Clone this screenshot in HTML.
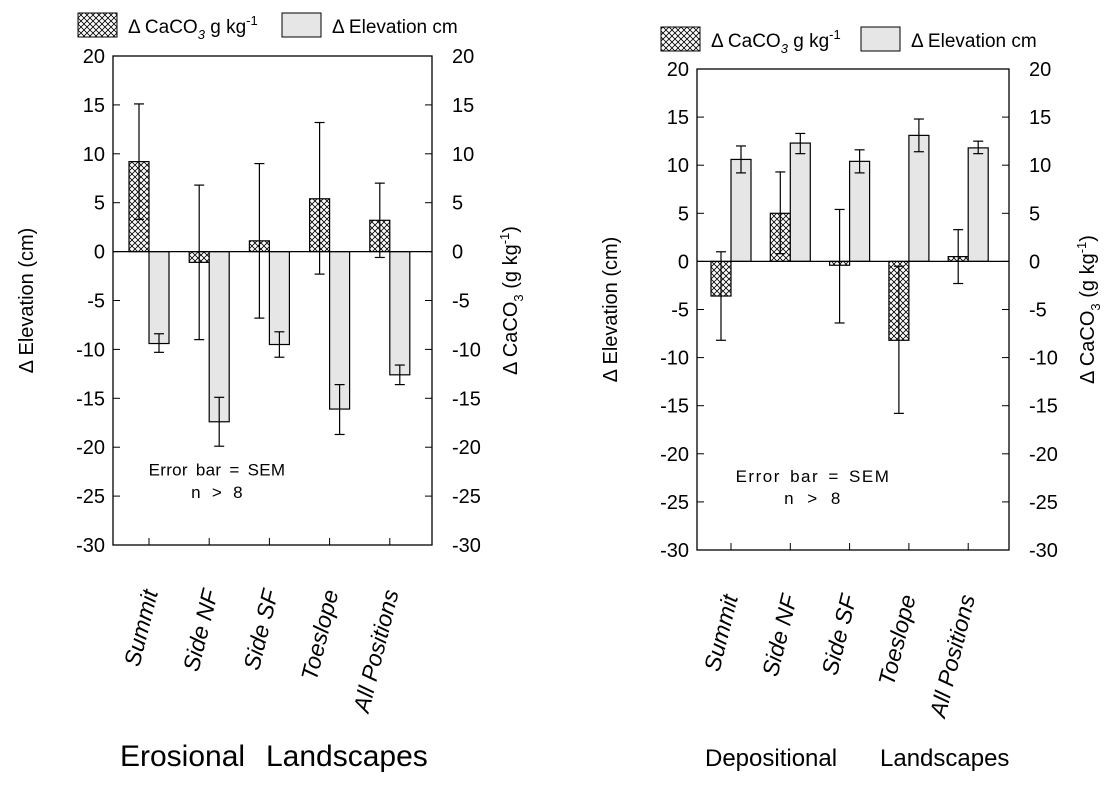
<!DOCTYPE html>
<html><head><meta charset="utf-8"><style>
body{margin:0;background:#fff;}
svg{display:block;font-family:"Liberation Sans",sans-serif;}
</style></head><body>
<svg id="chart" width="1114" height="786" viewBox="0 0 1114 786">
<defs>
<pattern id="hatch" patternUnits="userSpaceOnUse" width="6" height="6">
<rect width="6" height="6" fill="#fff"/>
<path d="M0,0 L6,6 M6,0 L0,6" stroke="#000" stroke-width="0.8"/>
</pattern>
</defs>
</svg>
<script>
const categories = ["Summit","Side NF","Side SF","Toeslope","All Positions"];
const yTicks = [20,15,10,5,0,-5,-10,-15,-20,-25,-30];
const eroCaco3 = [9.2,-1.1,1.1,5.4,3.2];
const eroCaco3Hi = [15.1,6.8,9.0,13.2,7.0];
const eroCaco3Lo = [3.3,-9.0,-6.8,-2.3,-0.6];
const eroElev = [-9.4,-17.4,-9.5,-16.1,-12.6];
const eroElevHi = [-8.4,-14.9,-8.2,-13.6,-11.6];
const eroElevLo = [-10.3,-19.9,-10.8,-18.7,-13.6];
const depCaco3 = [-3.6,5.0,-0.4,-8.2,0.5];
const depCaco3Hi = [1.0,9.3,5.4,-0.5,3.3];
const depCaco3Lo = [-8.2,0.8,-6.4,-15.8,-2.3];
const depElev = [10.6,12.3,10.4,13.1,11.8];
const depElevHi = [12.0,13.3,11.6,14.8,12.5];
const depElevLo = [9.2,11.2,9.2,11.4,11.2];

const svg = document.getElementById('chart');
const NS = 'http://www.w3.org/2000/svg';
function mk(tag, attrs, parent, text){
  const e = document.createElementNS(NS, tag);
  for (const k in attrs) e.setAttribute(k, attrs[k]);
  if (text !== undefined) e.textContent = text;
  (parent||svg).appendChild(e);
  return e;
}

function panel(p){
  const g = mk('g', {});
  
  
  const y = v => p.top + (20 - v) / 50 * (p.bottom - p.top);
  const cx = i => p.left + p.off + p.step * i;
  const fr = mk('rect', {x:p.left, y:p.top, width:p.right-p.left, height:p.bottom-p.top, fill:'none', stroke:'#000', 'stroke-width':1.3}, g);
  
  
  yTicks.forEach(t => {
    const yy = y(t);
    mk('line', {x1:p.left, x2:p.left+7, y1:yy, y2:yy, stroke:'#000'}, g);
    mk('line', {x1:p.right-7, x2:p.right, y1:yy, y2:yy, stroke:'#000'}, g);
    const l = mk('text', {x:p.left-8, y:yy+7, 'text-anchor':'end', 'font-size':20}, g, String(t));
    
    
    const r = mk('text', {x:p.right+20, y:yy+7, 'text-anchor':'start', 'font-size':20}, g, String(t));
    
    
  });
  const bw = 20;
  categories.forEach((c, i) => {
    const x = cx(i);
    mk('line', {x1:x, x2:x, y1:p.bottom, y2:p.bottom-7, stroke:'#000'}, g);
    const v1 = p.caco3[i], v2 = p.elev[i];
    const b1 = mk('rect', {x:x-bw, y:Math.min(y(v1),y(0)), width:bw, height:Math.abs(y(v1)-y(0)), fill:'url(#hatch)', stroke:'#000', 'stroke-width':1.2}, g);
    
    
    const b2 = mk('rect', {x:x, y:Math.min(y(v2),y(0)), width:bw, height:Math.abs(y(v2)-y(0)), fill:'#e6e6e6', stroke:'#000', 'stroke-width':1.2}, g);
    
    
    [[x-bw/2, p.cHi[i], p.cLo[i]], [x+bw/2, p.eHi[i], p.eLo[i]]].forEach(([ex, hi, lo]) => {
      const eg = mk('g', {stroke:'#000', 'stroke-width':1.2}, g);
      
      
      mk('line', {x1:ex, x2:ex, y1:y(hi), y2:y(lo)}, eg);
      mk('line', {x1:ex-5, x2:ex+5, y1:y(hi), y2:y(hi)}, eg);
      mk('line', {x1:ex-5, x2:ex+5, y1:y(lo), y2:y(lo)}, eg);
    });
    const ax = x + p.lx, ay = p.bottom + 47;
    const tl = mk('text', {x:ax, y:ay, 'text-anchor':'end', 'font-size':23, 'font-style':'italic', transform:`rotate(-76 ${ax} ${ay})`}, g, c);
    
    
  });
  mk('line', {x1:p.left, x2:p.right, y1:y(0), y2:y(0), stroke:'#000', 'stroke-width':1.2}, g);
  const n1 = mk('text', {x:p.noteX, y:y(-22.2)+7, 'font-size':17, 'text-anchor':'middle', 'letter-spacing':p.ls, 'word-spacing':3}, g, 'Error bar = SEM');
  
  
  const n2 = mk('text', {x:p.noteX, y:y(-24.5)+7, 'font-size':17, 'text-anchor':'middle', 'letter-spacing':p.ls, 'word-spacing':6}, g, 'n > 8');
  
  
  const ym = (p.top + p.bottom) / 2;
  const at = mk('text', {x:p.left-80, y:ym, 'font-size':20, 'text-anchor':'middle', transform:`rotate(-90 ${p.left-80} ${ym})`}, g, 'Δ Elevation (cm)');
  
  
  const rt = mk('text', {x:p.right+85, y:ym, 'font-size':20, 'text-anchor':'middle', transform:`rotate(-90 ${p.right+85} ${ym})`}, g);
  
  
  rt.innerHTML = 'Δ CaCO<tspan font-size="13" dy="6">3</tspan><tspan dy="-6"> (g kg</tspan><tspan font-size="13" dy="-8">-1</tspan><tspan dy="8">)</tspan>';
  const L = p.leg;
  const s1 = mk('rect', {x:L.x, y:L.y, width:39, height:24, fill:'url(#hatch)', stroke:'#000'}, g);
  
  
  const t1 = mk('text', {x:L.x+50, y:L.y+20, 'font-size':19}, g);
  
  
  t1.innerHTML = 'Δ CaCO<tspan font-size="13" dy="6" font-style="italic">3</tspan><tspan dy="-6"> g kg</tspan><tspan font-size="13" dy="-8">-1</tspan>';
  const s2 = mk('rect', {x:L.x+L.gap, y:L.y, width:39, height:24, fill:'#e6e6e6', stroke:'#000'}, g);
  
  
  const t2 = mk('text', {x:L.x+L.gap+50, y:L.y+20, 'font-size':19}, g, 'Δ Elevation cm');
  
  
  const tt1 = mk('text', {x:p.t1x, y:766, 'font-size':p.titleSize}, g, p.title1);
  
  
  const tt2 = mk('text', {x:p.t2x, y:766, 'font-size':p.titleSize}, g, p.title2);
  
  
}

panel({name:'erosional-panel', left:113, right:432, top:56, bottom:545, off:36, step:60.2, lx:9,
  caco3:eroCaco3, cHi:eroCaco3Hi, cLo:eroCaco3Lo, elev:eroElev, eHi:eroElevHi, eLo:eroElevLo,
  noteX:217, ls:0.3, leg:{x:78, y:13, gap:204},
  title1:'Erosional', t1x:120, title2:'Landscapes', t2x:266, titleSize:30});
panel({name:'depositional-panel', left:697, right:1009, top:69, bottom:550, off:34, step:59.3, lx:7,
  caco3:depCaco3, cHi:depCaco3Hi, cLo:depCaco3Lo, elev:depElev, eHi:depElevHi, eLo:depElevLo,
  noteX:813, ls:1.5, leg:{x:661, y:27, gap:200},
  title1:'Depositional', t1x:705, title2:'Landscapes', t2x:880, titleSize:24});
</script>
</body></html>
